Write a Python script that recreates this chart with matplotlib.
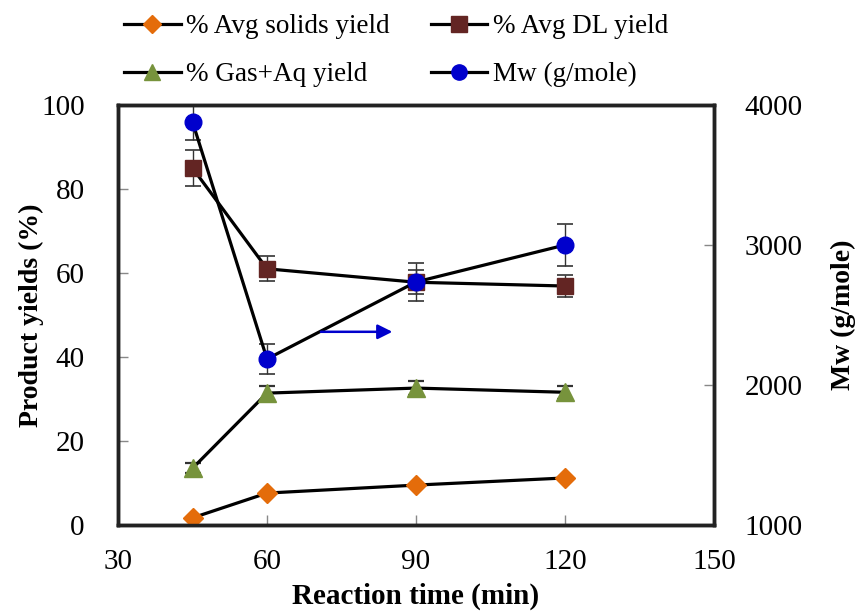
import matplotlib.pyplot as plt
from matplotlib.lines import Line2D

plt.rcParams['font.family'] = ['Liberation Serif', 'DejaVu Serif']

# reaction time (min)
time = [45, 60, 90, 120]

# product yields (%)
solids = [1.7, 7.6, 9.5, 11.2]
dl_yield = [85.0, 61.0, 57.8, 56.9]
dl_err = [4.3, 3.0, 2.8, 2.7]
gas_aq = [13.5, 31.4, 32.6, 31.6]
gas_err = [1.2, 1.7, 1.6, 1.5]

# molecular weight (g/mole)
mw = [3880, 2186, 2736, 3000]
mw_err = [130, 110, 135, 150]

labels = ['% Avg solids yield', '% Avg DL yield', '% Gas+Aq yield', 'Mw (g/mole)']
c_solid = '#E46C0A'
c_dl = '#632523'
c_gas = '#77933C'
c_mw = '#0000CC'

fig = plt.figure(figsize=(8.61, 6.16), dpi=100)
ax = fig.add_axes([118/861, 1 - 525/616, (714-118)/861, (525-105)/616])
ax2 = ax.twinx()

lw = 2.3
ax.errorbar(time, dl_yield, yerr=dl_err, fmt='none', ecolor='#333333', elinewidth=1, capsize=6, capthick=1.2, zorder=2)
ax.errorbar(time, gas_aq, yerr=gas_err, fmt='none', ecolor='#333333', elinewidth=1, capsize=6, capthick=1.6, zorder=2)
ax.plot(time, solids, color='black', lw=lw, marker='D', ms=10, mfc=c_solid, mec=c_solid, zorder=3)
ax.plot(time, dl_yield, color='black', lw=lw, marker='s', ms=12, mfc=c_dl, mec=c_dl, zorder=3)
ax.plot(time, gas_aq, color='black', lw=lw, marker='^', ms=13, mfc=c_gas, mec=c_gas, zorder=3)

ax2.errorbar(time, mw, yerr=mw_err, fmt='none', ecolor='#333333', elinewidth=1, capsize=6, capthick=1.2, zorder=2)
ax2.plot(time, mw, color='black', lw=lw, marker='o', ms=12, mfc=c_mw, mec=c_mw, zorder=3)

# arrow pointing to the right-hand axis
ax2.annotate('', xy=(85.8, 2380), xytext=(70.3, 2380),
             arrowprops=dict(arrowstyle='-|>', color=c_mw, lw=1.8, mutation_scale=22))

ax.set_xlim(30, 150)
ax.set_ylim(0, 100)
ax2.set_ylim(1000, 4000)
ax.set_xticks([30, 60, 90, 120, 150])
ax.set_yticks([0, 20, 40, 60, 80, 100])
ax2.set_yticks([1000, 2000, 3000, 4000])

ax.tick_params(axis='both', direction='in', length=7, width=1, color='#888888', labelsize=21, pad=17)
ax.tick_params(axis='y', pad=24)
ax2.tick_params(axis='y', direction='in', length=7, width=1, color='#888888', labelsize=21, pad=22)
for a in (ax, ax2):
    for s in a.spines.values():
        s.set_linewidth(2.5)
        s.set_color('#222222')

ax.set_xlabel('Reaction time (min)', fontsize=21, fontweight='bold', labelpad=6)
ax.set_ylabel('Product yields (%)', fontsize=20, fontweight='bold', labelpad=-2)
ax2.set_ylabel('Mw (g/mole)', fontsize=20, fontweight='bold', labelpad=20)

h_solid = Line2D([], [], color='black', lw=lw, marker='D', ms=9, mfc=c_solid, mec=c_solid)
h_dl = Line2D([], [], color='black', lw=lw, marker='s', ms=11, mfc=c_dl, mec=c_dl)
h_gas = Line2D([], [], color='black', lw=lw, marker='^', ms=12, mfc=c_gas, mec=c_gas)
h_mw = Line2D([], [], color='black', lw=lw, marker='o', ms=11, mfc=c_mw, mec=c_mw)
# legend fills column-wise, so order gives rows: solids/DL, gas/Mw
fig.legend([h_solid, h_gas, h_dl, h_mw], [labels[0], labels[2], labels[1], labels[3]],
           loc='upper left', bbox_to_anchor=(124/861, 1 - 14/616), ncol=2,
           frameon=False, fontsize=19.5, handlelength=2.1, handletextpad=0.2,
           columnspacing=1.5, labelspacing=0.85, borderpad=0, borderaxespad=0)

fig.savefig('out.png', dpi=100)
